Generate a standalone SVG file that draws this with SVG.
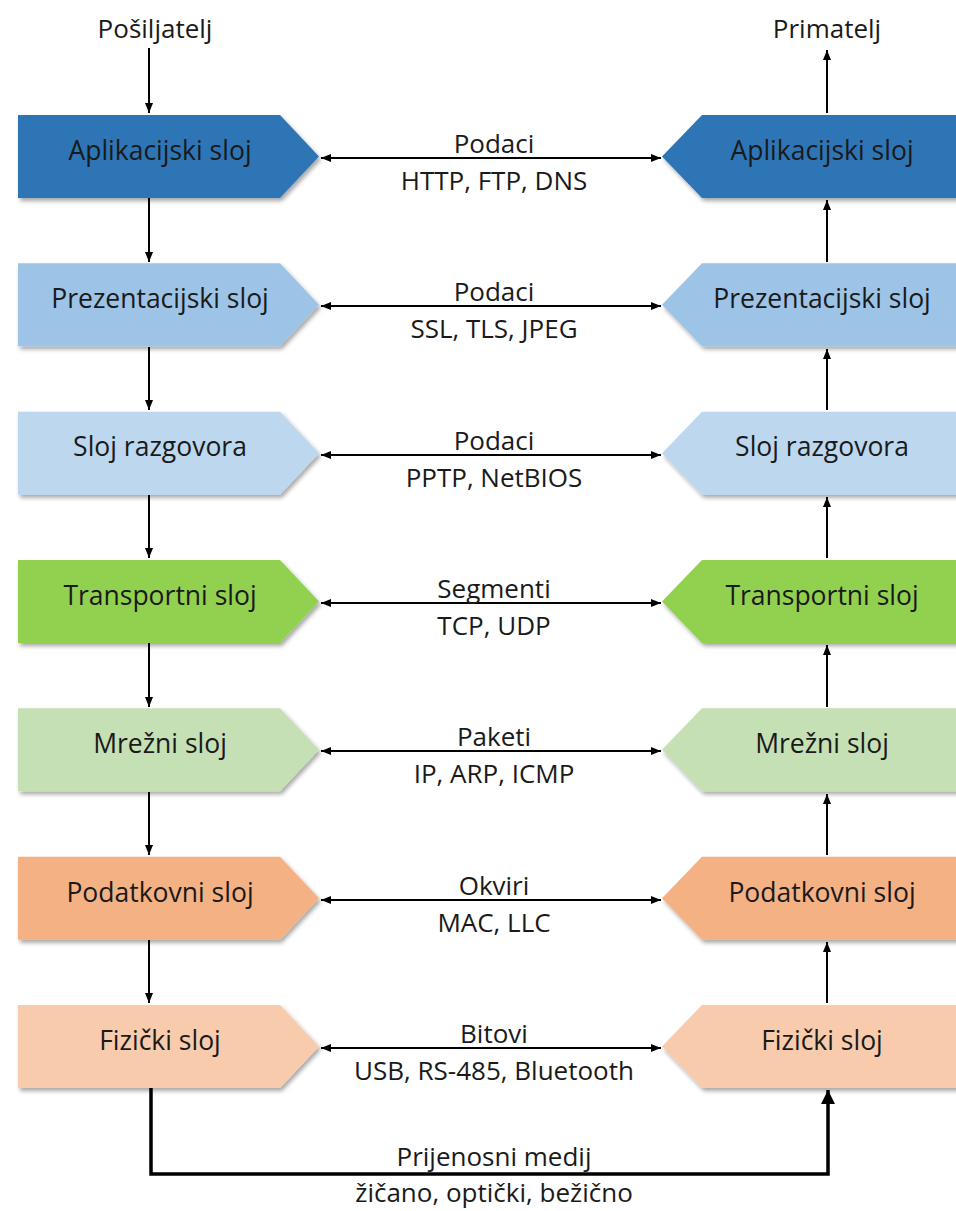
<svg xmlns="http://www.w3.org/2000/svg" width="956" height="1211" viewBox="0 0 956 1211">
<defs>
<filter id="sh" x="-10%" y="-10%" width="125%" height="130%">
<feDropShadow dx="2" dy="3" stdDeviation="2" flood-color="#000" flood-opacity="0.35"/>
</filter>
<marker id="ah" viewBox="0 0 10 8" refX="10" refY="4" markerWidth="10" markerHeight="8" markerUnits="userSpaceOnUse" orient="auto-start-reverse">
<path d="M0,0 L10,4 L0,8 z" fill="#000"/>
</marker>
<marker id="ahb" viewBox="0 0 14 14" refX="14" refY="7" markerWidth="14" markerHeight="14" markerUnits="userSpaceOnUse" orient="auto">
<path d="M0,0 L14,7 L0,14 z" fill="#000"/>
</marker>
</defs>
<style>
.t{font-family:"Open Sans","Noto Sans","Liberation Sans",sans-serif;font-size:26px;fill:#1a1a1a;text-anchor:middle}
.n{font-family:"Open Sans","Noto Sans","Liberation Sans",sans-serif;font-size:26.5px;fill:#1a1a1a;text-anchor:middle}
.c{stroke:#000;stroke-width:2;fill:none}
.cb{stroke:#000;stroke-width:3.5;fill:none}
.s{filter:url(#sh)}
</style>
<rect width="956" height="1211" fill="#fff"/>

<text class="t" x="155" y="38">Pošiljatelj</text>
<text class="t" x="827" y="38">Primatelj</text>

<g id="connectors">
<line class="c" x1="149" y1="48" x2="149" y2="113" marker-end="url(#ah)"/>
<line class="c" x1="827" y1="113" x2="827" y2="50" marker-end="url(#ah)"/>
<line class="c" x1="149" y1="198" x2="149" y2="262" marker-end="url(#ah)"/>
<line class="c" x1="149" y1="347" x2="149" y2="410" marker-end="url(#ah)"/>
<line class="c" x1="149" y1="495" x2="149" y2="558" marker-end="url(#ah)"/>
<line class="c" x1="149" y1="643" x2="149" y2="707" marker-end="url(#ah)"/>
<line class="c" x1="149" y1="792" x2="149" y2="855" marker-end="url(#ah)"/>
<line class="c" x1="149" y1="940" x2="149" y2="1003" marker-end="url(#ah)"/>
<line class="c" x1="827" y1="262" x2="827" y2="200" marker-end="url(#ah)"/>
<line class="c" x1="827" y1="410" x2="827" y2="349" marker-end="url(#ah)"/>
<line class="c" x1="827" y1="558" x2="827" y2="497" marker-end="url(#ah)"/>
<line class="c" x1="827" y1="707" x2="827" y2="645" marker-end="url(#ah)"/>
<line class="c" x1="827" y1="855" x2="827" y2="794" marker-end="url(#ah)"/>
<line class="c" x1="827" y1="1003" x2="827" y2="942" marker-end="url(#ah)"/>
<line class="c" x1="321" y1="158" x2="661" y2="158" marker-start="url(#ah)" marker-end="url(#ah)"/>
<line class="c" x1="321" y1="306" x2="661" y2="306" marker-start="url(#ah)" marker-end="url(#ah)"/>
<line class="c" x1="321" y1="455" x2="661" y2="455" marker-start="url(#ah)" marker-end="url(#ah)"/>
<line class="c" x1="321" y1="603" x2="661" y2="603" marker-start="url(#ah)" marker-end="url(#ah)"/>
<line class="c" x1="321" y1="751" x2="661" y2="751" marker-start="url(#ah)" marker-end="url(#ah)"/>
<line class="c" x1="321" y1="900" x2="661" y2="900" marker-start="url(#ah)" marker-end="url(#ah)"/>
<line class="c" x1="321" y1="1048" x2="661" y2="1048" marker-start="url(#ah)" marker-end="url(#ah)"/>
<path class="cb" d="M151,1088 V1174 H828 V1090" marker-end="url(#ahb)"/>
</g>

<g id="labels">
<text class="t" x="494" y="153">Podaci</text>
<text class="t" x="494" y="190">HTTP, FTP, DNS</text>
<text class="t" x="494" y="301">Podaci</text>
<text class="t" x="494" y="338">SSL, TLS, JPEG</text>
<text class="t" x="494" y="450">Podaci</text>
<text class="t" x="494" y="487">PPTP, NetBIOS</text>
<text class="t" x="494" y="598">Segmenti</text>
<text class="t" x="494" y="635">TCP, UDP</text>
<text class="t" x="494" y="746">Paketi</text>
<text class="t" x="494" y="783">IP, ARP, ICMP</text>
<text class="t" x="494" y="895">Okviri</text>
<text class="t" x="494" y="932">MAC, LLC</text>
<text class="t" x="494" y="1043">Bitovi</text>
<text class="t" x="494" y="1080">USB, RS-485, Bluetooth</text>
<text class="t" x="494" y="1166">Prijenosni medij</text>
<text class="t" x="494" y="1202">žičano, optički, bežično</text>
</g>

<g id="L1"><path class="s" fill="#2E75B6" d="M18,115 H280 L319,156.5 L280,198 H18 Z"/><text class="n" x="160" y="160">Aplikacijski sloj</text></g>
<g id="L2"><path class="s" fill="#9DC3E6" d="M18,263.3 H280 L319,304.8 L280,346.3 H18 Z"/><text class="n" x="160" y="308">Prezentacijski sloj</text></g>
<g id="L3"><path class="s" fill="#BDD7EE" d="M18,411.7 H280 L319,453.2 L280,494.7 H18 Z"/><text class="n" x="160" y="456">Sloj razgovora</text></g>
<g id="L4"><path class="s" fill="#92D050" d="M18,560 H280 L319,601.5 L280,643 H18 Z"/><text class="n" x="160" y="605">Transportni sloj</text></g>
<g id="L5"><path class="s" fill="#C5E0B4" d="M18,708.3 H280 L319,749.8 L280,791.3 H18 Z"/><text class="n" x="160" y="753">Mrežni sloj</text></g>
<g id="L6"><path class="s" fill="#F4B183" d="M18,856.7 H280 L319,898.2 L280,939.7 H18 Z"/><text class="n" x="160" y="902">Podatkovni sloj</text></g>
<g id="L7"><path class="s" fill="#F8CBAD" d="M18,1005 H280 L319,1046.5 L280,1088 H18 Z"/><text class="n" x="160" y="1050">Fizički sloj</text></g>

<g id="R1"><path class="s" fill="#2E75B6" d="M963,115 H702 L662,156.5 L702,198 H963 Z"/><text class="n" x="822" y="160">Aplikacijski sloj</text></g>
<g id="R2"><path class="s" fill="#9DC3E6" d="M963,263.3 H702 L662,304.8 L702,346.3 H963 Z"/><text class="n" x="822" y="308">Prezentacijski sloj</text></g>
<g id="R3"><path class="s" fill="#BDD7EE" d="M963,411.7 H702 L662,453.2 L702,494.7 H963 Z"/><text class="n" x="822" y="456">Sloj razgovora</text></g>
<g id="R4"><path class="s" fill="#92D050" d="M963,560 H702 L662,601.5 L702,643 H963 Z"/><text class="n" x="822" y="605">Transportni sloj</text></g>
<g id="R5"><path class="s" fill="#C5E0B4" d="M963,708.3 H702 L662,749.8 L702,791.3 H963 Z"/><text class="n" x="822" y="753">Mrežni sloj</text></g>
<g id="R6"><path class="s" fill="#F4B183" d="M963,856.7 H702 L662,898.2 L702,939.7 H963 Z"/><text class="n" x="822" y="902">Podatkovni sloj</text></g>
<g id="R7"><path class="s" fill="#F8CBAD" d="M963,1005 H702 L662,1046.5 L702,1088 H963 Z"/><text class="n" x="822" y="1050">Fizički sloj</text></g>
</svg>
